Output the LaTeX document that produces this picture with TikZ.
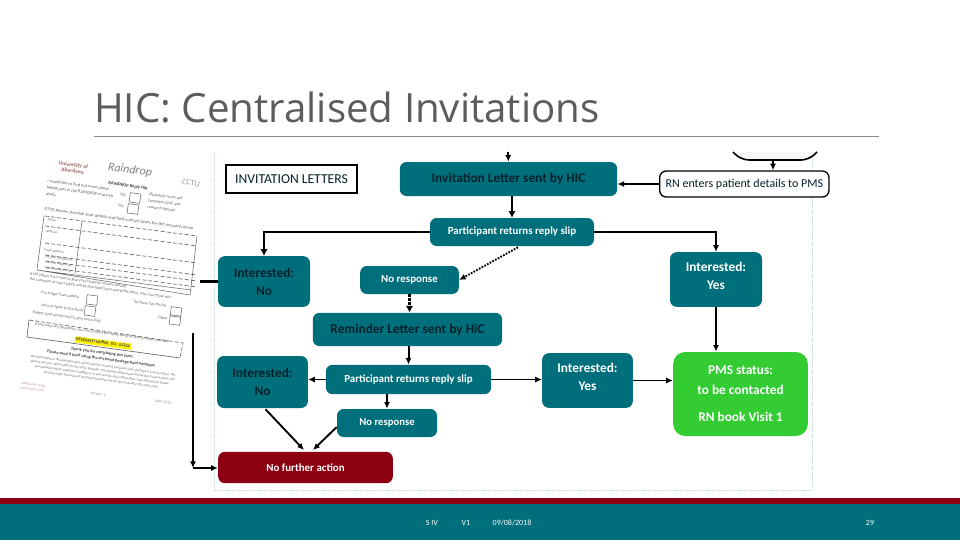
\documentclass[tikz,border=0pt]{standalone}
\usepackage{fontspec}
\setmainfont{Carlito}
\newfontfamily\titlefont{Open Sans}
\usetikzlibrary{arrows.meta}
\definecolor{tealbar}{HTML}{006F7C}
\definecolor{redbar}{HTML}{8C0012}
\definecolor{greenbox}{HTML}{33CC33}
\definecolor{darkink}{HTML}{04212B}
\definecolor{panelline}{HTML}{B5D3E3}
\newcommand{\liftline}{\rule[-6pt]{0pt}{6pt}}
\tikzset{
  flowbox/.style={rounded corners=5pt,inner sep=0pt,align=center,font=\fontsize{10}{13.5}\selectfont\bfseries},
  tealbox/.style={flowbox,fill=tealbar,text=white},
  tealdark/.style={flowbox,fill=tealbar,text=darkink},
  whitebox/.style={flowbox,draw=black,line width=1pt,fill=white,text=darkink,font=\fontsize{9}{11}\selectfont},
  link/.style={line width=1.3pt,-{Latex[length=5pt,width=4.5pt]}},
  heavylink/.style={line width=1.9pt,-{Latex[length=5pt,width=5.5pt]}},
  formtext/.style={rotate=-7.5,inner sep=0pt,align=center,text=black!62,font=\fontsize{3}{3.8}\selectfont},
  formbox/.style={draw=black!60,line width=0.4pt,rotate=-7.5,minimum width=8pt,minimum height=7pt,inner sep=0pt},
  footertext/.style={inner sep=0pt,text=white,font=\fontsize{6}{7}\selectfont}
}
\begin{document}
\begin{tikzpicture}[x=0.75pt,y=-0.75pt]
  \useasboundingbox (0,0) rectangle (960,540);
  \fill[tealbar] (0,504) rectangle (960,540);
  \fill[redbar] (0,498) rectangle (960,504);
  \node[footertext] (author) at (432,523) {S IV};
  \node[footertext] (version) at (466,523) {V1};
  \node[footertext] (date) at (512,523) {09/08/2018};
  \node[footertext] (page) at (870,523) {29};

  \node[anchor=base west,inner sep=0pt,text=black!64,font=\titlefont\fontsize{30.2}{36}\selectfont] (title) at (94,122) {HIC: Centralised Invitations};
  \draw[black!45,line width=0.5pt] (94,136) -- (879,136);

  \draw[panelline,densely dotted,line width=0.6pt] (214,152) -- (214,490) -- (812,490) -- (812,152);

  \node[flowbox,draw=black,line width=1.1pt,fill=white,rounded corners=0pt,minimum width=98pt,minimum height=21pt,text=darkink,font=\fontsize{10.2}{11}\selectfont] (letters) at (291.5,179) {INVITATION LETTERS};
  \node[tealdark,minimum width=163pt,minimum height=25.5pt] (invite) at (508.5,179) {Invitation Letter sent by HIC};
  \node[tealbox,minimum width=123pt,minimum height=21pt,font=\fontsize{8.2}{10}\selectfont\bfseries] (reply1) at (512,232) {Participant returns reply slip};
  \node[tealdark,minimum width=69pt,minimum height=38pt] (no1) at (264,281.5) {Interested:\\No};
  \node[tealbox,minimum width=74pt,minimum height=21pt,font=\fontsize{8.2}{10}\selectfont\bfseries] (noreply1) at (409.5,280) {No response};
  \node[tealdark,minimum width=142pt,minimum height=25pt] (reminder) at (407.5,329.5) {Reminder Letter sent by HiC};
  \node[tealbox,minimum width=69pt,minimum height=41pt] (yes1) at (716,279.5) {Interested:\\Yes\liftline};
  \node[whitebox,minimum width=127pt,minimum height=19.5pt,anchor=west] (rn) at (659,184) {RN enters patient details to PMS};

  \node[tealdark,minimum width=68pt,minimum height=39pt] (no2) at (262.5,382) {Interested:\\No};
  \node[tealbox,minimum width=124pt,minimum height=22pt,font=\fontsize{8.2}{10}\selectfont\bfseries] (reply2) at (408.5,379.5) {Participant returns reply slip};
  \node[tealbox,minimum width=75pt,minimum height=21pt,font=\fontsize{8}{10}\selectfont\bfseries] (noreply2) at (387,423) {No response};
  \node[flowbox,fill=redbar,text=white,minimum width=131pt,minimum height=23.5pt,font=\fontsize{8.2}{10}\selectfont\bfseries] (stop) at (305.5,467.5) {No further action};
  \node[tealbox,minimum width=68pt,minimum height=41pt] (yes2) at (587.5,380.5) {Interested:\\Yes\liftline};
  \node[flowbox,fill=greenbox,text=white,rounded corners=9pt,minimum width=101pt,minimum height=63pt] (pms) at (740.5,394) {PMS status:\\[1pt]to be contacted\\[7pt]RN book Visit 1};

  \coordinate (topstart) at (508,152);
  \coordinate (cutbox) at (773,160);
  \coordinate (stubleft) at (200,281.5);
  \coordinate (sidetop) at (193,333);
  \coordinate (sidefoot) at (193,468);

  \draw[black,line width=1.2pt,fill=black!3,rounded corners=6pt] (733,152) -- (741,160) -- (809,160) -- (817,152);
  \draw[link] (topstart) -- (invite.north);
  \draw[link] (cutbox) -- (cutbox |- rn.north);
  \draw[link] (rn.west) -- (rn.west -| invite.east);
  \draw[heavylink] (invite.south -| reply1.north) -- (reply1.north);
  \draw[heavylink] (reply1.west) -| (no1.north);
  \draw[link] (reply1.east) -| (yes1.north);
  \draw[link,densely dotted,line width=1.4pt] (reply1.south) ++(6,1) -- (noreply1.east);
  \draw[heavylink,densely dotted,line width=2.4pt] (noreply1.south) -- (noreply1.south |- reminder.north);
  \draw[link,line width=1.5pt] (reminder.south -| reply2.north) -- (reply2.north);
  \draw[link,line width=1.5pt] (yes1.south) -- (yes1.south |- pms.north);
  \draw[link] (reply2.west) -- (reply2.west -| no2.east);
  \draw[link] (reply2.east) -- (reply2.east -| yes2.west);
  \draw[link] (yes2.east) -- (yes2.east -| pms.west);
  \draw[link,line width=1.5pt] (reply2.south -| noreply2.north) -- (noreply2.north);
  \draw[link,line width=1.4pt] (no2.south) ++(3,1) -- (304,450);
  \draw[link,line width=1.4pt] (noreply2.west) ++(0,4) -- (313,450);
  \draw[line width=1.9pt] (stubleft) -- (no1.west);
  \draw[link,line width=1.4pt] (sidetop) -- (sidefoot);
  \draw[link] (sidefoot) -- (sidefoot -| stop.west);

  \node[formtext,text=red!35!black!60,font=\fontsize{4.2}{4.6}\selectfont\bfseries] (logoa) at (73,168) {University of\\Aberdeen};
  \node[formtext,text=black!50,font=\fontsize{9}{10}\selectfont\itshape] (logob) at (130,170) {Raindrop};
  \node[formtext,text=black!40,font=\fontsize{6}{7}\selectfont] (logoc) at (191,183) {CCTU};
  \node[formtext,font=\fontsize{3.4}{4.2}\selectfont\bfseries,text=black!75] (slip) at (128,186) {RAINDROP Reply slip};
  \node[formtext,align=left,font=\fontsize{3.3}{4.8}\selectfont] (wish) at (80,192) {I would like to find out more about\\taking part in the RAINDROP research\\study.};
  \node[formtext] (yeslabel) at (123,195) {YES};
  \node[formtext] (nolabel) at (121,206) {NO};
  \node[formbox] (yesbox) at (135,198) {};
  \node[formbox] (nobox) at (133,209) {};
  \node[formtext,align=left,font=\fontsize{3.1}{4.8}\selectfont] (nurse) at (165,203) {(Research nurse will\\complete GMC and\\research history)};
  \node[formtext,font=\fontsize{3.5}{4}\selectfont] (details) at (119,219) {If YES please, provide your details and best contact times for the research nurse};
  \foreach \ya/\yb in {216/236,226/246,243/263,255/275,261/281,267/287}
    \draw[black!60,line width=0.5pt,dash pattern=on 3pt off 1.6pt] (45,\ya) -- (197,\yb);
  \draw[black!60,line width=0.4pt] (37,270) -- (191,290) (197,236) -- (190,295) -- (37,270) -- (44,216) (82,221) -- (75,273);
  \foreach \px/\py/\rowlabel in {52/220/Name,52/232/Address,54/251/Email address,59/258.5/Daytime telephone,59/264/Mobile telephone,59/269.5/Best contact time}
    \node[formtext,font=\fontsize{2.6}{3}\selectfont] at (\px,\py) {\rowlabel};
  \node[formtext,align=left] (ifno) at (101,286) {If NO (there is no need to give your Hospital Contact details)\\The summary of your results will be provided if you would like them, why you chose this:};
  \node[formtext] (reasona) at (60,295) {I no longer have asthma};
  \node[formbox] (boxa) at (92,300) {};
  \node[formtext] (reasonb) at (150,304) {Too busy, live too far};
  \node[formbox] (boxb) at (176,312) {};
  \node[formtext] (reasonc) at (62,308) {I do not agree to the study};
  \node[formbox] (boxc) at (90,311) {};
  \node[formtext] (reasond) at (67,317) {Rather (and would need to give more info)};
  \node[formtext] (reasone) at (163,318) {Other};
  \node[formbox] (boxe) at (175,320) {};
  \draw[black!60,line width=0.5pt,dash pattern=on 3pt off 1.6pt] (29,320) -- (183,343) -- (180,358);
  \draw[black!60,line width=0.5pt] (29,320) -- (27,337) -- (180,358);
  \node[formtext] (consent) at (102,333) {If you have any questions, you can contact the study team on the numbers overleaf};
  \node[formtext,fill=yellow,text=black!75,inner sep=1pt,font=\fontsize{3.3}{4}\selectfont\bfseries] (hospitalref) at (103,343) {RESEARCH NURSE, TEL: 01234};
  \node[formtext,text=black!75,font=\fontsize{3.2}{4.4}\selectfont\bfseries] (thanks) at (102,356) {Thank you for completing this form.\\Please send it back using the enclosed postage-paid envelope.};
  \node[formtext,font=\fontsize{2.5}{3.5}\selectfont] (privacy) at (102,373) {The information in this questionnaire will be used for research purposes only, and kept in a secure place. We\\will not use your information for any other purpose. Your details will be used only by the research team and\\your answers will be treated in confidence. If you provide your information, your data will be stored\\securely under the terms of the Data Protection Act for ten years after the study ends.};
  \node[formtext,text=red!40!black!40,align=left,font=\fontsize{2.8}{3.6}\selectfont] (funder) at (33,387) {Additional study\\information line};
  \node[formtext,text=black!40] (formversion) at (98,394) {Version 1};
  \node[formtext,text=black!40] (formdate) at (163,402) {Date 2018};
\end{tikzpicture}
\end{document}
